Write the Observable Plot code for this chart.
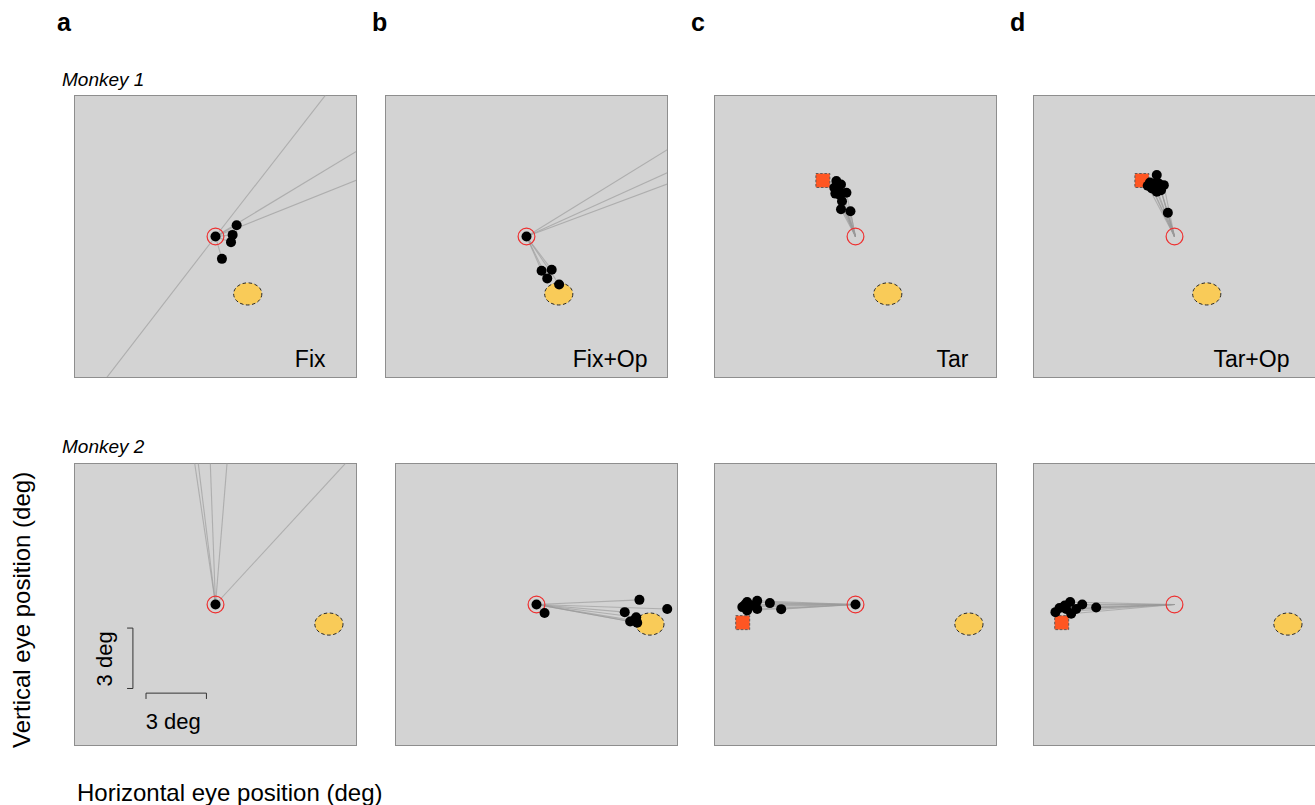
<!DOCTYPE html>
<html>
<head>
<meta charset="utf-8">
<script src="https://cdn.jsdelivr.net/npm/d3@7"></script>
<script src="https://cdn.jsdelivr.net/npm/@observablehq/plot@0.6"></script>
<style>
  html, body { margin: 0; padding: 0; background: #fff; }
  #fig { position: relative; width: 1315px; height: 805px; font-family: "Liberation Sans", Arial, Helvetica, sans-serif; color: #000; overflow: hidden; }
  .lbl { position: absolute; line-height: 1; white-space: nowrap; }
  .panel { position: absolute; }
</style>
</head>
<body>
<div id="fig"></div>
<script>
// ---------------- DATA (degrees, relative to fixation point) ----------------
const columnLetters = ["a", "b", "c", "d"];
const conditionLabels = ["Fix", "Fix+Op", "Tar", "Tar+Op"];
const monkeyLabels = ["Monkey 1", "Monkey 2"];
const xAxisLabel = "Horizontal eye position (deg)";
const yAxisLabel = "Vertical eye position (deg)";
const scaleBarLabel = "3 deg";

const fixationPoint = [0, 0];
// receptive-field (optogenetic) ellipse centre per monkey
const rfCenters = [[1.6, -2.85], [5.63, -0.97]];
const rfRadii = [0.7, 0.55]; // [horizontal, vertical] half-axes in deg
// saccade target per monkey
const targetPositions = [[-1.62, 2.78], [-5.6, -0.9]];

// Monkey 1
const m1FixDots = [[0, 0], [1.05, 0.56], [0.85, 0.08], [0.77, -0.28], [0.32, -1.11]];
const m1FixLines = [[5.72, 7.35], [-5.66, -7.34], [7.5, 4.53], [7.5, 3.0]];
const m1FixOpDots = [[0, 0], [0.75, -1.7], [1.25, -1.65], [1.03, -2.08], [1.62, -2.38]];
const m1FixOpLines = [[7.5, 4.62], [7.5, 3.4], [7.5, 2.8]];
const m1TarDots = [[-0.95, 2.75], [-0.72, 2.58], [-0.88, 2.55], [-1.05, 2.42], [-0.83, 2.33], [-0.45, 2.17],
                   [-1.0, 2.13], [-0.78, 2.08], [-0.67, 1.75], [-0.72, 1.35], [-0.25, 1.25]];
const m1TarOpDots = [[-0.88, 3.05], [-1.22, 2.68], [-0.98, 2.63], [-0.78, 2.63], [-0.53, 2.55], [-1.33, 2.52],
                     [-1.12, 2.38], [-0.67, 2.3], [-0.88, 2.22], [-0.33, 1.18]];

// Monkey 2
const m2FixDots = [[0, 0]];
const m2FixLines = [[-1.12, 7.6], [-0.93, 7.6], [-0.28, 7.6], [0.62, 7.6], [7.0, 7.6]];
const m2FixOpDots = [[0, 0], [0.4, -0.42], [5.11, 0.23], [6.49, -0.22], [4.38, -0.38], [4.95, -0.63],
                     [4.65, -0.84], [5.0, -0.91], [4.83, -0.8]];
const m2TarDots = [[0, 0], [-3.69, -0.23], [-4.25, 0.07], [-4.88, 0.18], [-4.88, -0.22], [-5.38, 0.12],
                   [-5.62, -0.13], [-5.38, -0.3], [-5.18, -0.05], [-5.48, 0.0]];
const m2TarOpDots = [[-3.89, -0.15], [-4.58, 0.0], [-5.18, 0.12], [-4.88, -0.22], [-5.71, -0.17],
                     [-5.91, -0.38], [-5.38, -0.22], [-5.13, -0.46], [-5.45, -0.05]];

// scale bars (Monkey 2, Fix panel): origin + length in deg
const scaleBarLength = 3;
const vScaleBar = {x: -4.1, yTop: -1.17};
const hScaleBar = {y: -4.4, xLeft: -3.45};

// ---------------- LAYOUT ----------------
const SIZE = 282, M = 1;
const DOMAIN = [-7, 7];
const PX_PER_DEG = SIZE / (DOMAIN[1] - DOMAIN[0]);
const panelLeft = [[74, 385, 714, 1033], [74, 395, 714, 1033]];
const panelTop = [95, 463];
const labelDx = [-31, -20, -28, -26];
const FONT = "Liberation Sans, Arial, Helvetica, sans-serif";

const panelData = [
  [{dots: m1FixDots, lines: m1FixLines}, {dots: m1FixOpDots, lines: m1FixOpLines},
   {dots: m1TarDots, lines: []}, {dots: m1TarOpDots, lines: []}],
  [{dots: m2FixDots, lines: m2FixLines}, {dots: m2FixOpDots, lines: []},
   {dots: m2TarDots, lines: []}, {dots: m2TarOpDots, lines: []}]
];
const showTarget = [false, false, true, true];

const rfAspect = rfRadii[0] / rfRadii[1];
const ellipseSymbol = {
  draw(context, size) {
    const ry = Math.sqrt(size / Math.PI);
    const rx = ry * rfAspect;
    const k = 0.5523;
    context.moveTo(rx, 0);
    context.bezierCurveTo(rx, k * ry, k * rx, ry, 0, ry);
    context.bezierCurveTo(-k * rx, ry, -rx, k * ry, -rx, 0);
    context.bezierCurveTo(-rx, -k * ry, -k * rx, -ry, 0, -ry);
    context.bezierCurveTo(k * rx, -ry, rx, -k * ry, rx, 0);
    context.closePath();
  }
};

const fig = document.getElementById("fig");

function addLabel(text, left, top, size, extra = {}) {
  const d = document.createElement("div");
  d.className = "lbl";
  d.textContent = text;
  d.style.left = left + "px";
  d.style.top = top + "px";
  d.style.fontSize = size + "px";
  Object.assign(d.style, extra);
  fig.appendChild(d);
  return d;
}

function makePanel(row, col) {
  const pd = panelData[row][col];
  const dots = pd.dots.map(([x, y]) => ({x, y}));
  const ends = pd.dots.concat(pd.lines).filter(([x, y]) => x !== 0 || y !== 0);
  const traces = ends.map(([x, y]) => ({x1: fixationPoint[0], y1: fixationPoint[1], x2: x, y2: y}));
  const rf = [{x: rfCenters[row][0], y: rfCenters[row][1]}];
  const fix = [{x: fixationPoint[0], y: fixationPoint[1]}];

  const marks = [
    Plot.frame({fill: "#d3d3d3", stroke: "#8e8e8e", strokeWidth: 1}),
    Plot.dot(rf, {x: "x", y: "y", r: rfRadii[1] * PX_PER_DEG, symbol: ellipseSymbol,
      fill: "#f9cb58", stroke: "#2a2a2a", strokeWidth: 1, strokeDasharray: "3.5,2.5"}),
    Plot.link(traces, {x1: "x1", y1: "y1", x2: "x2", y2: "y2", stroke: "#9a9a9a",
      strokeWidth: 1.1, strokeOpacity: 0.65, clip: true})
  ];
  if (showTarget[col]) {
    const t = [{x: targetPositions[row][0], y: targetPositions[row][1]}];
    marks.push(Plot.dot(t, {x: "x", y: "y", symbol: "square", r: 7.9, fill: "#ff5622",
      stroke: "#555", strokeWidth: 0.9, strokeDasharray: "2.5,1.8"}));
  }
  marks.push(Plot.dot(fix, {x: "x", y: "y", r: 8.4, fill: "none", stroke: "#ee3030", strokeWidth: 1.2}));
  marks.push(Plot.dot(dots, {x: "x", y: "y", r: 5, fill: "black", stroke: "none"}));

  if (row === 0) {
    marks.push(Plot.text([conditionLabels[col]], {frameAnchor: "bottom-right", textAnchor: "end",
      lineAnchor: "bottom", dx: labelDx[col], dy: -11, fontSize: 23, fill: "black", fontFamily: FONT}));
  }
  if (row === 1 && col === 0) {
    const tick = 0.27;
    const L = scaleBarLength;
    const vBar = [
      {x: vScaleBar.x - tick, y: vScaleBar.yTop},
      {x: vScaleBar.x, y: vScaleBar.yTop},
      {x: vScaleBar.x, y: vScaleBar.yTop - L},
      {x: vScaleBar.x - tick, y: vScaleBar.yTop - L}
    ];
    const hBar = [
      {x: hScaleBar.xLeft, y: hScaleBar.y - tick},
      {x: hScaleBar.xLeft, y: hScaleBar.y},
      {x: hScaleBar.xLeft + L, y: hScaleBar.y},
      {x: hScaleBar.xLeft + L, y: hScaleBar.y - tick}
    ];
    marks.push(Plot.line(vBar, {x: "x", y: "y", stroke: "#333", strokeWidth: 1, curve: "linear"}));
    marks.push(Plot.line(hBar, {x: "x", y: "y", stroke: "#333", strokeWidth: 1, curve: "linear"}));
    marks.push(Plot.text([scaleBarLabel], {x: hScaleBar.xLeft + L / 2 - 0.15, y: hScaleBar.y - 1.8,
      textAnchor: "middle", lineAnchor: "bottom", fontSize: 22, fill: "black", fontFamily: FONT}));
    marks.push(Plot.text([scaleBarLabel], {x: vScaleBar.x - 1.39, y: vScaleBar.yTop - L / 2 - 0.03,
      textAnchor: "middle", lineAnchor: "middle", rotate: -90, fontSize: 22, fill: "black", fontFamily: FONT}));
  }

  const svg = Plot.plot({
    width: SIZE + 2 * M,
    height: SIZE + 2 * M,
    margin: M,
    x: {domain: DOMAIN, axis: null},
    y: {domain: DOMAIN, axis: null},
    style: {background: "transparent", fontFamily: FONT, overflow: "visible"},
    marks
  });
  svg.classList.add("panel");
  svg.style.left = (panelLeft[row][col] - M) + "px";
  svg.style.top = (panelTop[row] - M) + "px";
  fig.appendChild(svg);
}

for (let r = 0; r < 2; r++) for (let c = 0; c < 4; c++) makePanel(r, c);

// column letters
const letterX = [57, 372, 691, 1010];
columnLetters.forEach((t, i) => addLabel(t, letterX[i], 10, 25, {fontWeight: "bold"}));
// monkey labels
addLabel(monkeyLabels[0], 62, 70, 19, {fontStyle: "italic"});
addLabel(monkeyLabels[1], 62, 437, 19, {fontStyle: "italic"});
// axis labels
addLabel(xAxisLabel, 77, 781, 24);
const yl = addLabel(yAxisLabel, 0, 0, 24);
yl.style.transformOrigin = "0 0";
const w = yl.getBoundingClientRect().width;
yl.style.left = "10px";
yl.style.top = (610 + w / 2) + "px";
yl.style.transform = "rotate(-90deg)";
</script>
</body>
</html>
